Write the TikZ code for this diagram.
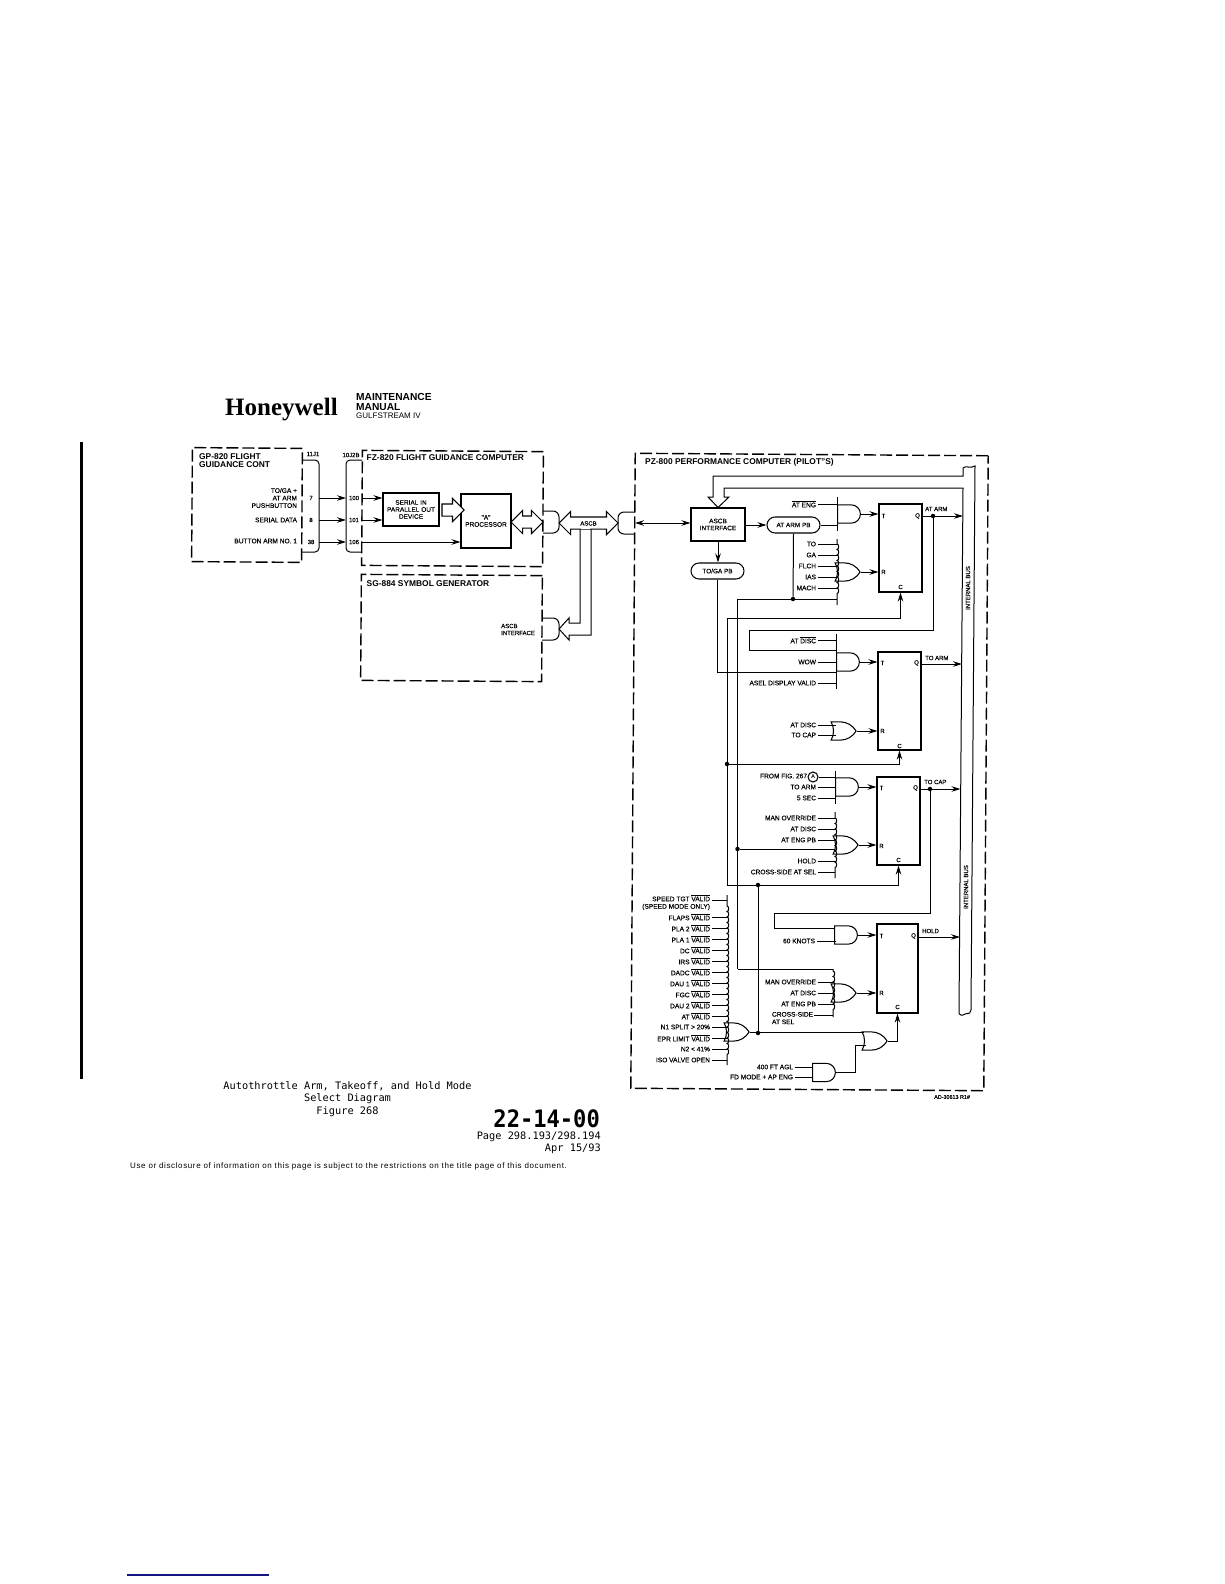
\documentclass[tikz,border=0pt]{standalone}
\usepackage{graphicx}
\usepackage{fontspec}
\setmainfont{Liberation Sans}
\newfontfamily\monofam{DejaVu Sans Mono}
\newfontfamily\logofam{Liberation Serif}
\newfontfamily\scanfam[FakeBold=0.2]{Liberation Sans}
\newfontfamily\noticefam[LetterSpace=7.8]{Liberation Sans}
\usetikzlibrary{arrows.meta, shapes.gates.logic.US, shapes.arrows, shapes.misc, decorations.pathmorphing}
\definecolor{rulenavy}{RGB}{20,20,130}
\newcommand{\barred}[1]{$\overline{\hbox{#1}}$}

\begin{document}
\begin{tikzpicture}[
  x=1pt, y=-1pt,
  >={Stealth[length=9pt,width=5.5pt]},
  wire/.style={line width=1pt},
  sig/.style={wire, ->},
  dbox/.style={draw, line width=1.4pt, dash pattern=on 12pt off 4pt, rotate=-0.4, inner sep=0},
  fbox/.style={draw, line width=1.05pt, inner sep=0, align=center, font=\scanfam\fontsize{6.5}{7}\selectfont},
  title/.style={anchor=west, inner sep=0, align=left, font=\fontsize{8.4}{8.5}\bfseries\selectfont},
  lbl/.style={anchor=east, inner sep=0, outer sep=0, font=\scanfam\fontsize{6.6}{7.5}\selectfont},
  pin/.style={inner sep=0, font=\scanfam\fontsize{6}{7}\selectfont},
  pill/.style={rounded rectangle, draw, line width=1.05pt, inner sep=0, font=\scanfam\fontsize{6.4}{7}\selectfont},
  andg/.style={and gate US, draw, line width=1.05pt, anchor=west, inner sep=0, minimum width=22, minimum height=17},
  org/.style={or gate US, draw, line width=1.05pt, anchor=west, inner sep=0, minimum width=23, minimum height=17},
  dot/.style={circle, fill, inner sep=0, minimum size=4.5},
  hollow/.style={single arrow, draw, line width=1.05pt, fill=white, inner xsep=0, inner ysep=0, text height=11, single arrow head extend=5.5},
  pipe/.style={double arrow, draw, line width=1.05pt, fill=white, inner xsep=0, inner ysep=0, text height=8, text depth=3, double arrow head extend=5.5, font=\scanfam\fontsize{6}{7}\selectfont},
  wavy/.style 2 args={wire, decorate, decoration={bumps, segment length=11pt, amplitude=1.7pt, pre=lineto, pre length=#1, post=lineto, post length=#2}},
  doc/.style={inner sep=0, font=\monofam\fontsize{10.3}{12}\selectfont},
]
\useasboundingbox (0,0) rectangle (1224,1584);

% header
\node[anchor=west, inner sep=0, font=\logofam\fontsize{25}{25}\bfseries\selectfont] (logo) at (225,410) {Honeywell};
\node[anchor=west, inner sep=0, font=\fontsize{10.2}{10}\bfseries\selectfont] (manA) at (356,397) {MAINTENANCE};
\node[anchor=west, inner sep=0, font=\fontsize{10.2}{10}\bfseries\selectfont] (manB) at (356,407) {MANUAL};
\node[anchor=west, inner sep=0, font=\fontsize{8}{8}\selectfont] (manC) at (356,416) {GULFSTREAM IV};
\draw[line width=3pt] (81.5,442) -- (81.5,1079);

% outer boxes
\node[dbox, minimum width=110, minimum height=114] (gp) at (247,505) {};
\node[dbox, minimum width=181, minimum height=115] (fz) at (452.5,508.5) {};
\node[dbox, minimum width=181, minimum height=106] (sg) at (451.5,628) {};
\node[dbox, minimum width=353, minimum height=635] (pz) at (809.5,772) {};
\node[title] (gpT) at (199,460.5) {GP-820 FLIGHT\\GUIDANCE CONT};
\node[title] (fzT) at (366.5,458) {FZ-820 FLIGHT GUIDANCE COMPUTER};
\node[title] (sgT) at (366.5,583.5) {SG-884 SYMBOL GENERATOR};
\node[title] (pzT) at (645,462) {PZ-800 PERFORMANCE COMPUTER (PILOT"S)};

% flight guidance panel
\node[lbl, align=right] (pbT) at (297,498) {TO/GA +\\AT ARM\\PUSHBUTTON};
\node[lbl] (sdT) at (297,520) {SERIAL DATA};
\node[lbl] (baT) at (297,541) {BUTTON ARM NO. 1};
\draw[wire, rounded corners=4pt] (302,460) -- (319,460) -- (319,552) -- (302,552);
\draw[wire, rounded corners=4pt] (362,460) -- (346,460) -- (346,552) -- (362,552);
\node[pin] (jone) at (313,454) {11J1};
\node[pin] (jtwo) at (351,455) {10J2B};
\coordinate (jA) at (319,500);
\coordinate (jB) at (346,500);
\coordinate (jC) at (362,500);
\foreach \pa/\pb/\yy in {7/100/498, 8/101/520, 38/106/542} {
  \node[pin] (p\pa) at (311,\yy) {\pa};
  \node[pin] (p\pb) at (354,\yy) {\pb};
  \draw[sig] (p\pa -| jA) -- (p\pa -| jB);
}
\node[fbox, minimum width=56, minimum height=33] (serial) at (411,509.5) {SERIAL IN\\PARALLEL OUT\\DEVICE};
\node[fbox, minimum width=50, minimum height=54] (proc) at (486,521) {"A"\\PROCESSOR};
\draw[sig] (p100 -| jC) -- (p100 -| serial.west);
\draw[sig] (p101 -| jC) -- (p101 -| serial.west);
\draw[sig] (p106 -| jC) -- (p106 -| proc.west);
\node[hollow, minimum height=22] (data) at (450,510) {};
\node[pipe, minimum height=32] (link) at (527,522) {};

% ascb bus
\draw[wire, rounded corners=6pt] (543,511) -- (559,511) -- (559,533) -- (543,533);
\draw[wire, rounded corners=6pt] (542,618) -- (559,618) -- (559,640) -- (542,640);
\draw[wire, rounded corners=6pt] (635,512) -- (618,512) -- (618,534) -- (635,534);
\coordinate (sgTip) at (559,629);
\draw[wire, fill=white] (580,527) -- (580,623) -- (569,623) -- (569,618) -- (sgTip) -- (569,640) -- (569,635) -- (591,635) -- (591,527);
\node[pipe, minimum height=59] (ascb) at (588.5,523) {ASCB};
\draw[white, line width=1.8pt] (580.7,528.5) -- (590.3,528.5);
\node[pin, anchor=west, align=left] (sgI) at (501,629.5) {ASCB\\INTERFACE};

% performance computer, interface
\node[fbox, minimum width=54, minimum height=33] (ifc) at (718,524.5) {ASCB\\INTERFACE};
\coordinate (pzTab) at (635,523);
\draw[wire, <->] (pzTab) -- (pzTab -| ifc.west);
\node[pill, minimum width=53, minimum height=16] (armPB) at (793.5,525) {AT ARM PB};
\node[pill, minimum width=53, minimum height=16] (togaPB) at (717.5,571) {TO/GA PB};
\draw[sig] (ifc.east |- armPB) -- (armPB.west);
\draw[sig] (ifc.south) -- (ifc.south |- togaPB.north);

% internal bus tube
\draw[wire] (ifc.north) -- (708,497) -- (713,497) -- (713,476) -- (963,476) -- (963,468)
  .. controls (966,465) and (970,469) .. (975,466) -- (971,1010)
  .. controls (970,1016) and (966,1012) .. (963,1015) -- (961,1015)
  .. controls (959,1015) and (959,1013) .. (959,1012) -- (963,488) -- (724,488) -- (724,497) -- (729,497) -- cycle;
\node[pin, rotate=90] (busA) at (968,588) {INTERNAL BUS};
\node[pin, rotate=90] (busB) at (966,887) {INTERNAL BUS};
\node[anchor=west, inner sep=0, font=\scanfam\fontsize{5.4}{6}\selectfont] (drawNo) at (934,1097) {AD-30613 R1\#};

% flip-flops
\node[fbox, minimum width=43, minimum height=88] (ffArm) at (900.5,548) {};
\node[fbox, minimum width=43, minimum height=98] (ffTo) at (899.5,701) {};
\node[fbox, minimum width=43, minimum height=88] (ffCap) at (898.5,821) {};
\node[fbox, minimum width=41, minimum height=89] (ffHold) at (897.5,968.5) {};
\foreach \ff/\ty/\ry/\cy in {ffArm/516/572/587, ffTo/663/731/746, ffCap/788/846/860, ffHold/936/993/1007} {
  \node[pin, xshift=5] (\ff T) at (\ff.west |- 0,\ty) {T};
  \node[pin, xshift=-5] (\ff Q) at (\ff.east |- 0,\ty) {Q};
  \node[pin, xshift=5] (\ff R) at (\ff.west |- 0,\ry) {R};
  \node[pin] (\ff C) at (\ff.south |- 0,\cy) {C};
}

% gates
\node[andg] (gArm) at (837,514) {};
\node[org] (gArmR) at (837,572) {};
\node[andg] (gTo) at (836,662) {};
\node[org] (gToR) at (833,731) {};
\node[andg] (gCap) at (835,787) {};
\node[org] (gCapR) at (835,845) {};
\node[andg] (gHold) at (834,935) {};
\node[org] (gHoldR) at (833,993) {};
\node[org] (gSplit) at (726,1032) {};
\node[org] (gEnd) at (864,1041) {};
\node[andg] (gAgl) at (812,1072.5) {};
\foreach \g/\ff in {gArm/ffArm, gArmR/ffArm, gTo/ffTo, gToR/ffTo, gCap/ffCap, gCapR/ffCap, gHold/ffHold, gHoldR/ffHold} {
  \draw[sig] (\g.east) -- (\g.east -| \ff.west);
}

% input bars
\coordinate (barA) at (837,497);
\coordinate (barB) at (837,539);
\coordinate (barC) at (836,634);
\coordinate (barD) at (835,771);
\coordinate (barE) at (835,812);
\coordinate (barF) at (833,969);
\coordinate (barG) at (727,895);
\draw[wire] (barA) -- (837,531);
\draw[wavy={5pt}{6pt}] (barB) -- (837,605);
\draw[wire] (barC) -- (836,689);
\draw[wire] (barD) -- (835,804);
\draw[wavy={6pt}{5pt}] (barE) -- (835,878);
\draw[wavy={2pt}{3pt}] (barF) -- (833,1017);
\draw[wavy={11pt}{5pt}] (barG) -- (727,1065);

% inputs
\foreach \t/\yy/\bar in {\barred{AT ENG}/504/barA, TO/544/barB, GA/555/barB, FLCH/566/barB, IAS/577/barB, MACH/588/barB,
    AT \barred{DISC}/640/barC, WOW/662/barC, ASEL DISPLAY VALID/683/barC,
    TO ARM/787/barD, 5 SEC/798/barD,
    MAN OVERRIDE/818/barE, AT DISC/829/barE, AT ENG PB/840/barE, HOLD/861/barE, CROSS-SIDE AT SEL/872/barE,
    MAN OVERRIDE/982/barF, AT DISC/993/barF, AT ENG PB/1004/barF} {
  \node[lbl] (in\yy) at (816,\yy) {\t};
  \draw[wire] ([xshift=2]in\yy.east) -- (in\yy.east -| \bar);
}
\node[lbl] (inDisc) at (816,725) {AT DISC};
\node[lbl] (inCapT) at (816,735) {TO CAP};
\draw[wire] ([xshift=2]inDisc.east) -- (836,725);
\draw[wire] ([xshift=2]inCapT.east) -- (836,735);
\node[draw, circle, line width=1.05pt, inner sep=0, minimum size=10, font=\fontsize{5.5}{6}\bfseries\selectfont] (figA) at (813,777) {A};
\node[lbl] (inFig) at (807,776) {FROM FIG. 267};
\draw[wire] (figA.east) -- (figA.east -| barD);
\node[lbl] (inKts) at (815,941) {60 KNOTS};
\draw[wire] ([xshift=2]inKts.east) -- (836,941);
\node[lbl, anchor=north west, align=left] (inCross) at (772,1012) {CROSS-SIDE\\AT SEL};
\coordinate (crossEnd) at (814,1015);
\draw[wire] (crossEnd) -- (crossEnd -| barF);
\foreach \t/\yy in {SPEED TGT \barred{VALID}/898, (SPEED MODE ONLY)/907, FLAPS \barred{VALID}/917, PLA 2 \barred{VALID}/928,
    PLA 1 \barred{VALID}/939, DC \barred{VALID}/950, IRS \barred{VALID}/961, DADC \barred{VALID}/972, DAU 1 \barred{VALID}/983,
    FGC \barred{VALID}/994, DAU 2 \barred{VALID}/1005, AT \barred{VALID}/1016, N1 SPLIT > 20\%/1027,
    EPR LIMIT \barred{VALID}/1038, N2 < 41\%/1049, ISO VALVE OPEN/1060} {
  \node[lbl] (vl\yy) at (710,\yy) {\t};
}
\foreach \yy in {917,928,939,950,961,972,983,994,1005,1016,1027,1038,1049,1060} {
  \draw[wire] ([xshift=2]vl\yy.east) -- (vl\yy.east -| barG);
}
\coordinate (vlFirst) at (712,900);
\draw[wire] (vlFirst) -- (vlFirst -| barG);
\node[lbl] (inAgl) at (793,1067) {400 FT AGL};
\node[lbl] (inFd) at (793,1077) {FD MODE + AP ENG};
\draw[wire] ([xshift=2]inAgl.east) -- (813,1067);
\draw[wire] ([xshift=2]inFd.east) -- (813,1077);

% outputs
\node[dot] (dotArm) at (933,516) {};
\node[dot] (dotCap) at (930,789) {};
\coordinate (tubeArm) at (963,516);
\coordinate (tubeTo) at (962,664);
\coordinate (tubeCap) at (960.5,789);
\coordinate (tubeHold) at (960,937);
\draw[sig] (ffArm.east |- tubeArm) -- (tubeArm);
\draw[sig] (ffTo.east |- tubeTo) -- (tubeTo);
\draw[sig] (ffCap.east |- tubeCap) -- (tubeCap);
\draw[sig] (ffHold.east |- tubeHold) -- (tubeHold);
\node[pin, anchor=west] (qArm) at (925,509) {AT ARM};
\node[pin, anchor=west] (qTo) at (925,658) {TO ARM};
\node[pin, anchor=west] (qCap) at (924,782) {TO CAP};
\node[pin, anchor=west] (qHold) at (922,931) {HOLD};

% feedback wiring
\draw[wire] (dotArm) |- (749,630) |- (barC |- 0,650);
\draw[wire] (dotCap) |- (774,913) |- (834,928);
\draw[wire] (armPB.east) -- (armPB.east -| barA);
\node[dot] (dotPB) at (793,599) {};
\draw[wire] (armPB.south) -- (dotPB);
\coordinate (manLow) at (737.5,969);
\draw[wire] (manLow) |- (dotPB) -- (dotPB -| barB);
\draw[wire] (manLow) -- (manLow -| barF);
\node[dot] (dotMan) at (737.5,849) {};
\draw[wire] (dotMan) -- (dotMan -| barE);
\draw[wire] (togaPB.south) |- (barC |- 0,672);
\coordinate (clkTop) at (727,618);
\node[dot] (clkMid) at (727,764) {};
\coordinate (clkLow) at (727,885);
\node[dot] (dotEnd) at (758,885) {};
\draw[wire] (clkTop) -- (clkLow);
\draw[sig] (clkTop) -| (ffArm.south);
\draw[sig] (clkMid) -| (ffTo.south);
\draw[sig] (clkLow) -| (ffCap.south);
\node[dot] (dotSplit) at (758,1033) {};
\draw[wire] (dotEnd) -- (dotSplit);
\draw[wire] (gSplit.east) -- (gSplit.east -| dotSplit) -- (gSplit.east -| gEnd.west);
\draw[sig] (gEnd.east) -| (ffHold.south);
\draw[wire] (gAgl.east) -| (855,1045) -- (866,1045);

% page footer
\node[doc] (capA) at (347.5,1086) {Autothrottle Arm, Takeoff, and Hold Mode};
\node[doc] (capB) at (347.5,1098.5) {Select Diagram};
\node[doc] (capC) at (347.5,1111.5) {Figure 268};
\node[anchor=east, inner sep=0, font=\monofam\fontsize{24}{24}\bfseries\selectfont] (secNo) at (600,1119) {\scalebox{.92}[1]{22-14-00}};
\node[doc, anchor=east] (pageNo) at (601,1137) {Page 298.193/298.194};
\node[doc, anchor=east] (pageDate) at (601,1149) {Apr 15/93};
\node[anchor=west, inner sep=0, font=\noticefam\fontsize{8}{8}\selectfont] (notice) at (130,1166) {Use or disclosure of information on this page is subject to the restrictions on the title page of this document.};
\draw[rulenavy, line width=1.2pt] (127,1575) -- (269,1575);
\end{tikzpicture}
\end{document}
